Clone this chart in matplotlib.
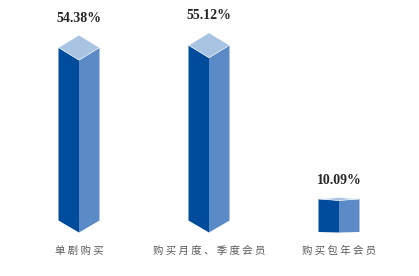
import matplotlib.pyplot as plt
from matplotlib.patches import Polygon

plt.rcParams['font.family'] = ['Noto Sans CJK SC', 'DejaVu Sans']

categories = ['单剧购买', '购买月度、季度会员', '购买包年会员']
values = [54.38, 55.12, 10.09]

# style: how much of the top / bottom face is visible per bar (pixels)
top_tilt = [12.5, 12.5, 1.5]
bottom_tilt = [12.0, 12.0, 0.5]

c_front = '#004c9c'
c_side = '#5a8bc6'
c_top = '#a9c4e3'

W, H = 419, 276
fig = plt.figure(figsize=(W / 100, H / 100), dpi=100)
ax = fig.add_axes([0, 0, 1, 1])
ax.axis('off')

# pixel scales
px_x = 130.0          # pixels per category
px_y = 3.17           # pixels per percent
x0_px = 79.0
base_px = 56.0        # baseline (from bottom)
ax.set_xlim(-x0_px / px_x, (W - x0_px) / px_x)
ax.set_ylim(-base_px / px_y, (H - base_px) / px_y)

hw = 20.5 / px_x
D = 12.5 / px_y

for i, (cat, v) in enumerate(zip(categories, values)):
    td = top_tilt[i] / px_y
    bd = bottom_tilt[i] / px_y
    ft = v - D             # front top vertex
    fb = -D                # front bottom vertex
    st = ft + td           # side top corners
    sb = fb + bd           # side bottom corners
    front = [(i - hw, st), (i, ft), (i, fb), (i - hw, sb)]
    side = [(i, ft), (i + hw, st), (i + hw, sb), (i, fb)]
    top = [(i - hw, st), (i, st + td), (i + hw, st), (i, ft)]
    ax.add_patch(Polygon(front, closed=True, fc=c_front, ec='none'))
    ax.add_patch(Polygon(side, closed=True, fc=c_side, ec='none'))
    ax.add_patch(Polygon(top, closed=True, fc=c_top, ec='white', lw=0.4))
    ax.annotate('%.2f%%' % v, (i, st + td), xytext=(0, 7.5), textcoords='offset points',
                ha='center', va='bottom', fontsize=10, fontweight='bold',
                family=['Liberation Serif'], color='#262626')
    ax.annotate(' '.join(cat), (i, fb), xytext=(0, -13.5), textcoords='offset points',
                ha='center', va='center', fontsize=7.5, color='#595959')

fig.savefig('out.png', dpi=100)
